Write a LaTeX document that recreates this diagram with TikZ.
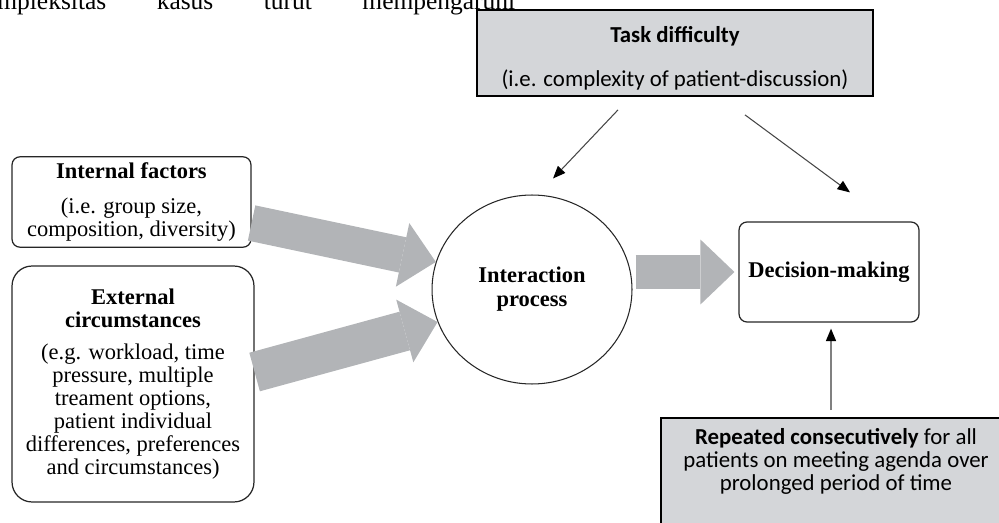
\documentclass[tikz,border=0pt]{standalone}
\usepackage{fontspec}
\setmainfont{Liberation Serif}
\newfontfamily\calibri{Carlito}
\usetikzlibrary{arrows.meta,calc,shapes.geometric}

\definecolor{boxgray}{RGB}{212,214,217}
\definecolor{fatgray}{RGB}{178,180,183}
\definecolor{linegray}{RGB}{70,70,70}

\begin{document}
\begin{tikzpicture}[x=0.02cm,y=-0.02cm,>={Triangle[length=0.25cm,width=0.2cm,color=black]},
                    thin arrow/.style={->,draw=linegray,line width=0.6pt},
                    fat arrow/.style={draw=fatgray,line width=#1,
                      -{Triangle[length=0.68cm,width=1.3cm,line width=0pt,fill=fatgray]}},
                    fat arrow/.default=0.72cm,
                    shaded box/.style={rectangle,draw,line width=1.1pt,fill=boxgray,
                      font=\calibri\fontsize{13}{15.6}\selectfont,align=center},
                    round box/.style={rectangle,rounded corners=#1,draw=black!85,line width=0.7pt,
                      font=\fontsize{12.8}{13.1}\selectfont,align=center}]

  \useasboundingbox (0,0) rectangle (999,523);
  \clip (-5,-5) rectangle (1004,528);

  \node[anchor=base west,inner sep=0pt,font=\fontsize{14.5}{17}\selectfont] (page) at (-3,10)
    {\makebox[10.36cm][s]{mpleksitas kasus turut mempengaruhi}};

  \node[shaded box,minimum width=7.92cm,minimum height=1.64cm] (task) at (675,53)
    {\rule{0pt}{15pt}\textbf{Task difficulty}\\[9.5pt](i.e. complexity of patient-discussion)};
  \node[round box=0.16cm,minimum width=4.78cm,minimum height=1.8cm] (intf) at (131.5,202)
    {\textbf{Internal factors}\\[6.8pt](i.e. group size,\\composition, diversity)};
  \node[round box=0.4cm,minimum width=4.84cm,minimum height=4.72cm] (ext) at (133,384)
    {\textbf{External}\\\textbf{circumstances}\\[5.4pt](e.g. workload, time\\pressure, multiple\\
     treament options,\\patient individual\\differences, preferences\\and circumstances)};
  \node[ellipse,draw=black!85,line width=0.6pt,minimum width=4cm,minimum height=3.78cm,inner sep=0pt,
        font=\bfseries\fontsize{12.8}{13.6}\selectfont,align=center] (proc) at (532,289.5)
    {Interaction\\process};
  \node[round box=0.16cm,minimum width=3.6cm,minimum height=2cm,
        font=\bfseries\fontsize{12.8}{13.1}\selectfont] (dec) at (829,272) {Decision-making};
  \node[shaded box,anchor=north,minimum width=7cm,inner xsep=0pt,inner ysep=0.2cm,
        font=\calibri\fontsize{13}{13.3}\selectfont] (rep) at (836,417)
    {\textbf{Repeated consecutively} for all\\patients on meeting agenda over\\
     prolonged period of time\rule[-2.5cm]{0pt}{0.1cm}};

  \draw[fat arrow] ($(intf.east)+(0,21)$) -- (proc.164);
  \draw[fat arrow=0.8cm] ($(ext.east)+(0,-12)$) -- (proc.199);
  \draw[fat arrow=0.68cm] ($(proc.east |- dec.west)+(3,0)$) -- ($(dec.west)+(-4,0)$);

  \draw[thin arrow] ($(task.south)+(-57,13)$) -- ($(proc.north)+(21,-16)$);
  \draw[thin arrow] ($(task.south)+(70,18)$) -- ($(dec.north)+(21,-29)$);
  \draw[->,draw=gray,line width=0.9pt] ($(rep.north)+(-5,-7)$) -- ($(dec.south)+(2,6)$);
\end{tikzpicture}
\end{document}
